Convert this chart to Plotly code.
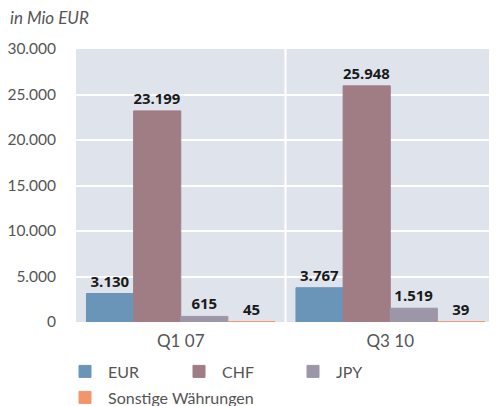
import plotly.graph_objects as go

categories = ["Q1 07", "Q3 10"]
series_names = ["EUR", "CHF", "JPY", "Sonstige Währungen"]
eur = [3130, 3767]
chf = [23199, 25948]
jpy = [615, 1519]
other = [45, 39]
colors = ["#6b94b9", "#a07c85", "#9d96a9", "#f2956b"]
legend_ids = ["legend", "legend", "legend", "legend2"]
y_ticks = [0, 5000, 10000, 15000, 20000, 25000, 30000]

W, H = 489, 398
L, R, T, B = 68, 2, 41, 84
PW = W - L - R
PH = H - T - B

fig = go.Figure()
for name, vals, col, lg in zip(series_names, [eur, chf, jpy, other], colors, legend_ids):
    fig.add_trace(go.Bar(
        x=categories, y=vals, name=name, legend=lg,
        marker=dict(color=col, line=dict(color=col, width=1)),
        texttemplate="%{y:,d}", textposition="outside",
        textfont=dict(family="Open Sans", size=15, color="#1a1a1a", weight="bold"),
        cliponaxis=False,
    ))

fig.add_shape(type="line", xref="x", yref="paper", x0=0.5, x1=0.5, y0=0, y1=1,
              line=dict(color="white", width=2), layer="below")

legend_common = dict(orientation="h", xanchor="left", yanchor="top",
                     font=dict(family="Lato", size=16, color="#555555"),
                     itemwidth=36, tracegroupgap=0)

fig.update_layout(
    width=W, height=H,
    margin=dict(l=L, r=R, t=T, b=B, autoexpand=False),
    separators=",.",
    barmode="group", bargap=0.1, bargroupgap=0,
    plot_bgcolor="#dfe4ec", paper_bgcolor="white",
    font=dict(family="Lato", color="#555555"),
    showlegend=True,
    legend=dict(x=-14 / PW, y=-0.119, entrywidth=63, entrywidthmode="pixels",
                **legend_common),
    legend2=dict(x=-14 / PW, y=-0.119 - 26 / PH, **legend_common),
    xaxis=dict(tickfont=dict(family="Lato", size=17, color="#555555"), showgrid=False,
               automargin=False, ticklabelstandoff=7),
    yaxis=dict(range=[0, 30000], tickvals=y_ticks, tickformat=",d",
               tickfont=dict(family="Lato", size=15.5, color="#555555"),
               gridcolor="white", gridwidth=2, zeroline=False,
               ticklabelstandoff=19, automargin=False),
    annotations=[dict(text="<i>in Mio EUR</i>", xref="paper", yref="paper",
                      x=-L / PW, y=1, xanchor="left", yanchor="bottom", yshift=19,
                      showarrow=False, font=dict(family="Lato", size=17, color="#555555"))],
)

fig.write_html("out.html")
